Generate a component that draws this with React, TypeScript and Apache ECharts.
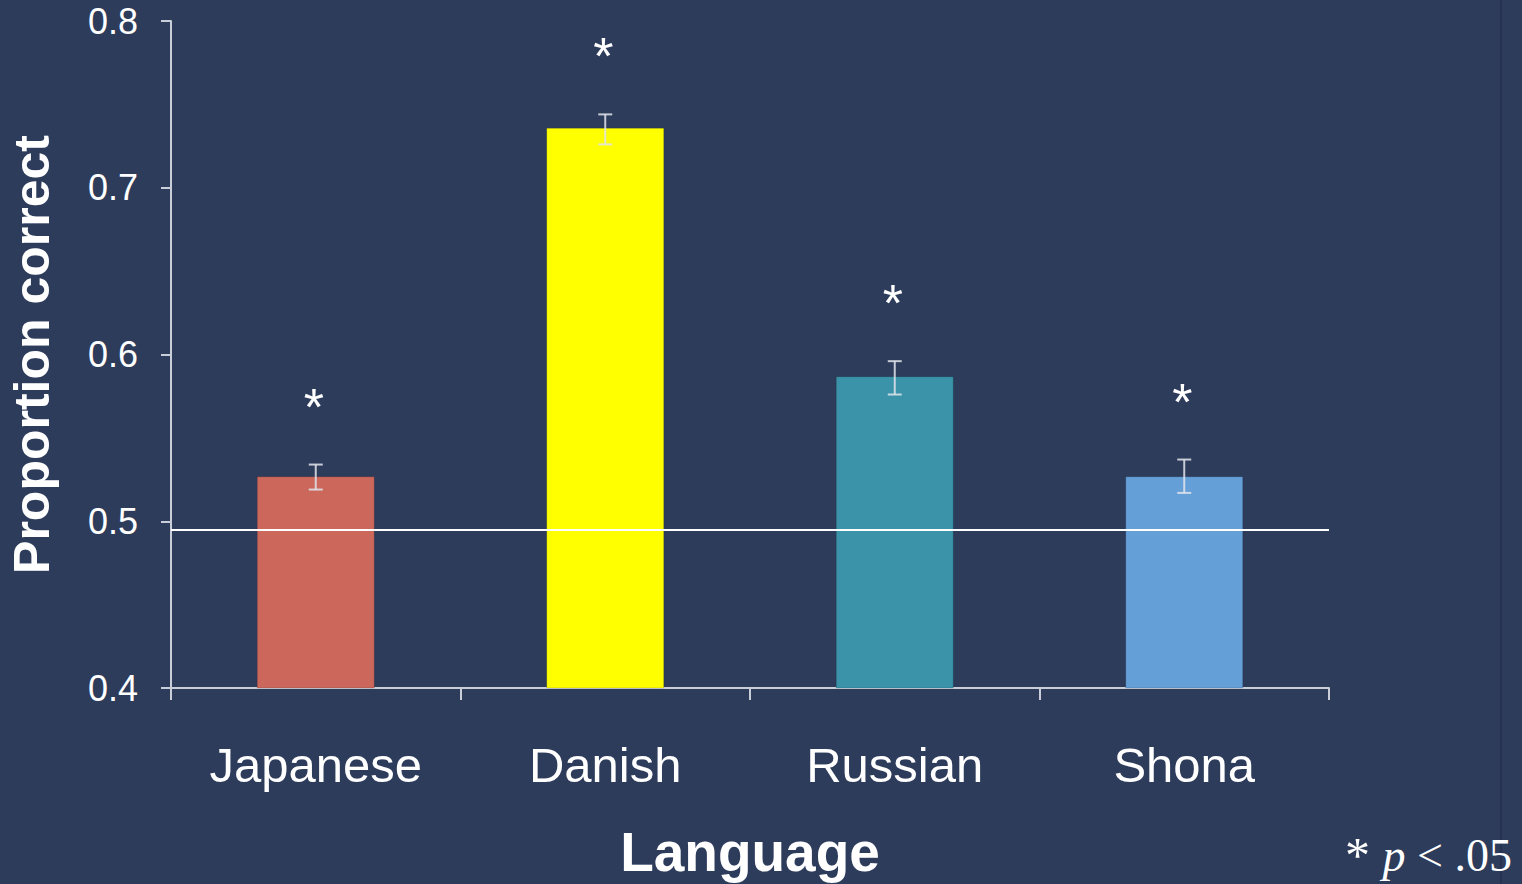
import React, { useEffect, useRef } from "react";
import * as echarts from "echarts";

const categories = ["Japanese", "Danish", "Russian", "Shona"];
const proportions = [0.527, 0.736, 0.587, 0.527];
const errLow = [0.519, 0.726, 0.576, 0.517];
const errHigh = [0.534, 0.744, 0.596, 0.537];
const significant = [true, true, true, true];
const barColors = ["#cc675c", "#ffff00", "#3a93a8", "#659fd8"];
const chanceLevel = 0.495;
const yTicks = { min: 0.4, max: 0.8, interval: 0.1 };

export default function App() {
  const ref = useRef<HTMLDivElement>(null);
  useEffect(() => {
    if (!ref.current) return;
    const chart = echarts.init(ref.current, undefined, { renderer: "svg" });
    const axisColor = "#c9ced8";
    chart.setOption({
      animation: false,
      backgroundColor: "#2e3c5c",
      grid: { left: 171, right: 193, top: 21, bottom: 196, outerBoundsMode: "none", containLabel: false },
      xAxis: {
        type: "category",
        data: categories,
        boundaryGap: true,
        axisLine: { lineStyle: { color: axisColor, width: 2 } },
        axisTick: { show: true, length: 12, lineStyle: { color: axisColor, width: 2 } },
        axisLabel: {
          color: "#ffffff",
          fontSize: 49,
          fontFamily: "Liberation Sans, Arial, sans-serif",
          margin: 52,
        },
        name: "Language",
        nameLocation: "middle",
        nameGap: 136,
        nameTextStyle: {
          color: "#ffffff",
          fontSize: 55,
          fontWeight: "bold",
          fontFamily: "Liberation Sans, Arial, sans-serif",
        },
      },
      yAxis: {
        type: "value",
        min: yTicks.min,
        max: yTicks.max,
        interval: yTicks.interval,
        splitLine: { show: false },
        axisLine: { show: true, lineStyle: { color: axisColor, width: 2 } },
        axisTick: { show: true, length: 10, lineStyle: { color: axisColor, width: 2 } },
        axisLabel: {
          color: "#ffffff",
          fontSize: 36,
          fontFamily: "Liberation Sans, Arial, sans-serif",
          margin: 33,
          formatter: (v: number) => v.toFixed(1),
        },
        name: "Proportion correct",
        nameLocation: "middle",
        nameGap: 114,
        nameRotate: 90,
        nameTextStyle: {
          color: "#ffffff",
          fontSize: 50,
          fontWeight: "bold",
          fontFamily: "Liberation Sans, Arial, sans-serif",
        },
      },
      series: [
        {
          type: "bar",
          barWidth: 118,
          data: proportions.map((v, i) => ({
            value: v,
            itemStyle: { color: barColors[i], borderColor: "rgba(0,0,0,0.15)", borderWidth: 1 },
          })),
          markLine: {
            silent: true,
            symbol: "none",
            precision: 4,
            label: { show: false },
            lineStyle: { color: "#ffffff", width: 2, type: "solid" },
            data: [{ yAxis: chanceLevel }],
          },
          z: 2,
        },
        {
          type: "custom",
          z: 5,
          data: categories.map((_, i) => [i, errLow[i], errHigh[i], significant[i] ? 1 : 0]),
          renderItem: (params: any, api: any) => {
            const lo = api.coord([api.value(0), api.value(1)]);
            const hi = api.coord([api.value(0), api.value(2)]);
            const cap = 7;
            const ls = { stroke: "rgba(225,228,235,0.85)", lineWidth: 2 };
            const children: any[] = [
              { type: "line", shape: { x1: hi[0], y1: hi[1], x2: lo[0], y2: lo[1] }, style: ls },
              { type: "line", shape: { x1: hi[0] - cap, y1: hi[1], x2: hi[0] + cap, y2: hi[1] }, style: ls },
              { type: "line", shape: { x1: lo[0] - cap, y1: lo[1], x2: lo[0] + cap, y2: lo[1] }, style: ls },
            ];
            if (api.value(3)) {
              children.push({
                type: "text",
                style: {
                  text: "*",
                  x: hi[0] - 2,
                  y: hi[1] - 58,
                  fill: "#ffffff",
                  fontSize: 52,
                  fontFamily: "Liberation Sans, Arial, sans-serif",
                  align: "center",
                  verticalAlign: "middle",
                },
              });
            }
            return { type: "group", children };
          },
        },
      ],
      graphic: [
        {
          type: "line",
          shape: { x1: 1501, y1: 0, x2: 1501, y2: 884 },
          style: { stroke: "#1f2944", lineWidth: 1 },
        },
        {
          type: "text",
          right: 10,
          bottom: 4,
          style: {
            text: "{s|* }{b|p}{a| < .05}",
            rich: {
              s: { fontSize: 50, fill: "#ffffff", fontFamily: "Liberation Serif, Times New Roman, serif" },
              a: { fontSize: 46, fill: "#ffffff", fontFamily: "Liberation Serif, Times New Roman, serif" },
              b: { fontSize: 46, fill: "#ffffff", fontStyle: "italic", fontFamily: "Liberation Serif, Times New Roman, serif" },
            },
          },
        },
      ],
    });
    return () => chart.dispose();
  }, []);
  return (
    <div
      ref={ref}
      style={{ position: "fixed", left: 0, top: 0, width: 1522, height: 884 }}
    />
  );
}
